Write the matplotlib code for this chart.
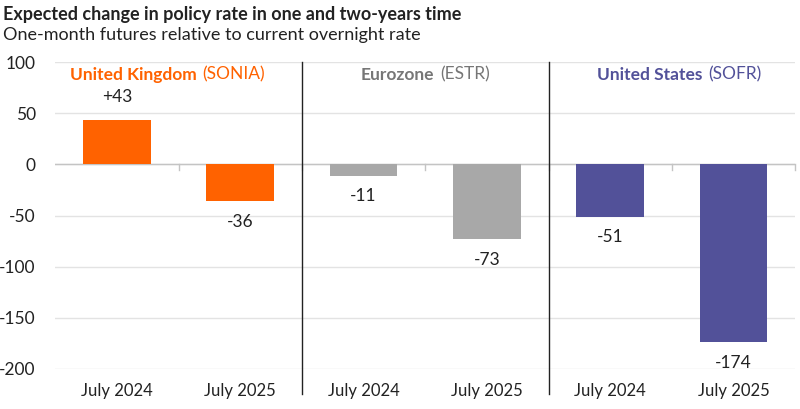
import matplotlib

matplotlib.use("Agg")
import matplotlib.pyplot as plt
from matplotlib.offsetbox import TextArea, HPacker, AnnotationBbox

plt.rcParams["font.family"] = ["Lato", "DejaVu Sans"]

# data
categories = ["July 2024", "July 2025"] * 3
values = [43, -36, -11, -73, -51, -174]
value_labels = ["+43", "-36", "-11", "-73", "-51", "-174"]
groups = ["United Kingdom", "Eurozone", "United States"]
group_rates = ["(SONIA)", "(ESTR)", "(SOFR)"]
group_colors = ["#FF6200", "#A8A8A8", "#525199"]
group_title_colors = ["#FF6200", "#767676", "#525199"]
yticks = [100, 50, 0, -50, -100, -150, -200]

fig = plt.figure(figsize=(8, 4.09), dpi=100)
ax = fig.add_axes([0.069, 0.098, 0.925, 0.75])

x = list(range(len(values)))
bar_colors = [group_colors[i // 2] for i in x]
ax.bar(x, values, width=0.55, color=bar_colors, zorder=3)

ax.set_xlim(-0.5, len(values) - 0.5)
ax.set_ylim(-200, 100)
ax.set_yticks(yticks)
ax.set_yticklabels([str(v) for v in yticks], fontsize=12.5, color="#222222")
ax.yaxis.grid(True, color="#E3E3E3", linewidth=1, zorder=0)
ax.axhline(0, color="#C4C4C4", linewidth=1, zorder=2)
ax.tick_params(axis="y", length=0, pad=14)
ax.set_xticks(x)
ax.set_xticklabels(categories, fontsize=12, color="#222222")
ax.tick_params(axis="x", length=0, pad=10)
for s in ax.spines.values():
    s.set_visible(False)

# small ticks on the zero line between categories
for b in [0.5, 1.5, 2.5, 3.5, 4.5, 5.5]:
    ax.plot([b, b], [0, -5], color="#C4C4C4", linewidth=1, zorder=2, clip_on=False)

# separators between groups
for b in [1.5, 3.5]:
    ax.plot([b, b], [100, -225], color="#222222", linewidth=1, zorder=4, clip_on=False)

# value labels
for xi, v, lab in zip(x, values, value_labels):
    off = 17 if v > 0 else -15
    ax.annotate(lab, (xi, v), xytext=(0, off), textcoords="offset points",
                ha="center", va="center", fontsize=12.5, color="#222222")

# group titles
title_x = [0.41, 2.5, 4.56]
for gx, name, rate, col in zip(title_x, groups, group_rates, group_title_colors):
    box = HPacker(children=[
        TextArea(name, textprops=dict(color=col, fontsize=12.5, fontweight="bold")),
        TextArea(rate, textprops=dict(color=col, fontsize=12.5)),
    ], sep=4, align="baseline")
    ab = AnnotationBbox(box, (gx, 88), frameon=False, box_alignment=(0.5, 0.5),
                        pad=0, annotation_clip=False)
    ax.add_artist(ab)

fig.text(0.004, 0.965, "Expected change in policy rate in one and two-years time",
         fontsize=13, fontweight="bold", color="#222222", va="center")
fig.text(0.004, 0.915, "One-month futures relative to current overnight rate",
         fontsize=13, color="#222222", va="center")

fig.savefig("out.png", dpi=100)
